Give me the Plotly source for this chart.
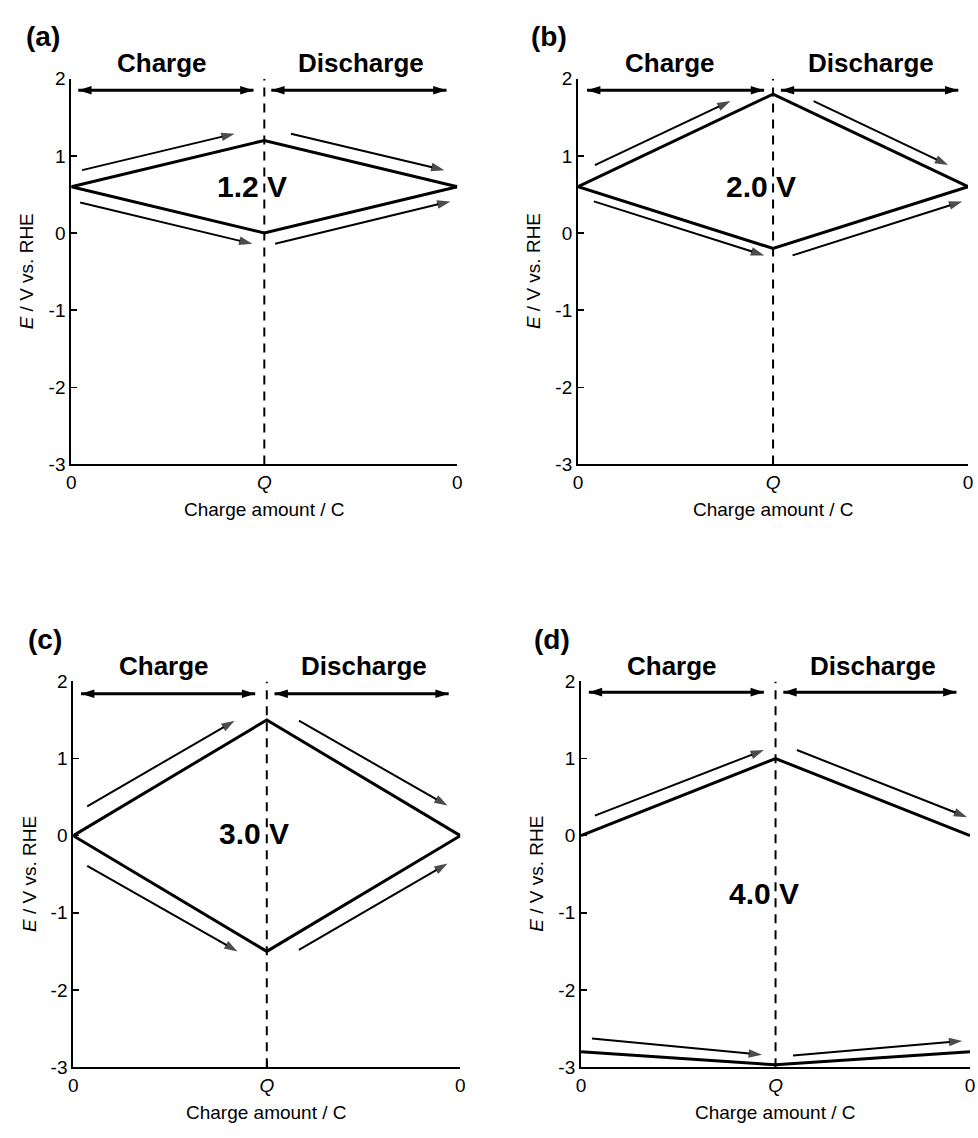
import plotly.graph_objects as go

# ---------------- data ----------------
x_pts = [0, 1, 2]
x_tickvals = [0, 1, 2]
x_ticktext = ["0", "<i>Q</i>", "0"]
y_tickvals = [2, 1, 0, -1, -2, -3]
y_ticktext = ["2", "1", "0", "-1", "-2", "-3"]

a_upper = [0.6, 1.2, 0.6]
a_lower = [0.6, 0.0, 0.6]
b_upper = [0.6, 1.8, 0.6]
b_lower = [0.6, -0.2, 0.6]
c_upper = [0.0, 1.5, 0.0]
c_lower = [0.0, -1.5, 0.0]
d_upper = [0.0, 1.0, 0.0]
d_lower = [-2.8, -2.97, -2.8]

panel_letters = ["(a)", "(b)", "(c)", "(d)"]
voltage_labels = ["1.2 V", "2.0 V", "3.0 V", "4.0 V"]
voltage_label_x = [0.935, 0.94, 0.936, 0.94]
voltage_label_y = [0.6, 0.6, 0.03, -0.75]

# thin direction arrows: (x_tail, y_tail, x_head, y_head)
a_arrows = [(0.056, 0.815, 0.846, 1.287), (1.138, 1.287, 1.933, 0.815),
            (0.046, 0.395, 0.938, -0.14), (1.056, -0.14, 1.964, 0.41)]
b_arrows = [(0.086, 0.88, 0.782, 1.71), (1.208, 1.71, 1.898, 0.88),
            (0.081, 0.41, 0.954, -0.29), (1.10, -0.29, 1.97, 0.41)]
c_arrows = [(0.072, 0.38, 0.834, 1.49), (1.166, 1.49, 1.934, 0.39),
            (0.072, -0.39, 0.849, -1.50), (1.166, -1.48, 1.934, -0.36)]
d_arrows = [(0.071, 0.26, 0.94, 1.11), (1.11, 1.11, 1.985, 0.24),
            (0.056, -2.63, 0.93, -2.84), (1.09, -2.85, 1.96, -2.66)]

# double-headed "Charge" / "Discharge" span arrows: (x_left, x_right, y)
a_spans = [(0.036, 0.944, 1.85), (1.036, 1.944, 1.85)]
b_spans = [(0.046, 0.954, 1.85), (1.04, 1.95, 1.85)]
c_spans = [(0.04, 0.94, 1.84), (1.04, 1.94, 1.84)]
d_spans = [(0.04, 0.94, 1.86), (1.04, 1.93, 1.86)]

span_labels = ["Charge", "Discharge"]
span_label_x = [0.47, 1.5]
span_label_y = 2.2

# ---------------- layout geometry (pixels) ----------------
W, H = 978, 1138
panel_px = [  # x_left, x_right, y_top, y_bottom
    (67, 457, 70, 463),
    (579, 973, 70, 463),
    (69, 460, 684, 1077),
    (582, 975, 684, 1077),
]
XR = [0, 2]
YR = [-3, 2]
FONT = "Liberation Sans, Arial, sans-serif"

uppers = [a_upper, b_upper, c_upper, d_upper]
lowers = [a_lower, b_lower, c_lower, d_lower]
arrows = [a_arrows, b_arrows, c_arrows, d_arrows]
spans = [a_spans, b_spans, c_spans, d_spans]

fig = go.Figure()
annotations = []


def px_x(p):
    return p / W


def px_y(p):
    return 1 - p / H


for i in range(4):
    n = "" if i == 0 else str(i + 1)
    xa, ya = "x" + n, "y" + n
    xl, xr, yt, yb = panel_px[i]

    def to_paper(xd, yd, xl=xl, xr=xr, yt=yt, yb=yb):
        px = xl + (xd - XR[0]) / (XR[1] - XR[0]) * (xr - xl)
        py = yb - (yd - YR[0]) / (YR[1] - YR[0]) * (yb - yt)
        return px_x(px), px_y(py)

    fig.update_layout(**{
        "xaxis" + n: dict(domain=[px_x(xl), px_x(xr)], range=XR, anchor=ya,
                          showline=True, linecolor="black", linewidth=2,
                          ticks="inside", ticklen=6, tickwidth=1.5, tickcolor="black",
                          tickvals=x_tickvals, ticktext=x_ticktext,
                          tickfont=dict(size=19, family=FONT, color="black"),
                          showgrid=False, zeroline=False, fixedrange=True),
        "yaxis" + n: dict(domain=[px_y(yb), px_y(yt)], range=YR, anchor=xa,
                          showline=True, linecolor="black", linewidth=2,
                          ticks="inside", ticklen=6, tickwidth=1.5, tickcolor="black",
                          tickvals=y_tickvals, ticktext=y_ticktext,
                          tickfont=dict(size=19, family=FONT, color="black"),
                          showgrid=False, zeroline=False, fixedrange=True),
    })

    # dashed vertical line at Q
    fig.add_trace(go.Scatter(x=[1, 1], y=YR, mode="lines", xaxis=xa, yaxis=ya,
                             line=dict(color="black", width=2, dash="9px,7px"),
                             showlegend=False, hoverinfo="skip", cliponaxis=False))
    # potential profiles
    for ys in (uppers[i], lowers[i]):
        fig.add_trace(go.Scatter(x=x_pts, y=ys, mode="lines", xaxis=xa, yaxis=ya,
                                 line=dict(color="black", width=3),
                                 showlegend=False, hoverinfo="skip", cliponaxis=False))
    # thin direction arrows
    for (x0, y0, x1, y1) in arrows[i]:
        fig.add_trace(go.Scatter(x=[x0, x1], y=[y0, y1], mode="lines+markers",
                                 xaxis=xa, yaxis=ya,
                                 line=dict(color="black", width=2),
                                 marker=dict(symbol="arrow", size=[0, 14], color="black",
                                             angleref="previous", line=dict(width=0)),
                                 showlegend=False, hoverinfo="skip", cliponaxis=False))
    # double-headed span arrows
    for (x0, x1, yy) in spans[i]:
        fig.add_trace(go.Scatter(x=[x0, x1], y=[yy, yy], mode="lines+markers",
                                 xaxis=xa, yaxis=ya,
                                 line=dict(color="black", width=3),
                                 marker=dict(symbol="arrow", size=14, color="black",
                                             angleref="up", angle=[270, 90],
                                             line=dict(width=0)),
                                 showlegend=False, hoverinfo="skip", cliponaxis=False))

    # Charge / Discharge labels
    for lab, lx in zip(span_labels, span_label_x):
        px, py = to_paper(lx, span_label_y)
        annotations.append(dict(text="<b>" + lab + "</b>", x=px, y=py, xref="paper",
                                yref="paper", showarrow=False, xanchor="center",
                                yanchor="middle",
                                font=dict(size=26, family=FONT, color="black")))
    # voltage label
    annotations.append(dict(text="<b>" + voltage_labels[i] + "</b>",
                            x=voltage_label_x[i], y=voltage_label_y[i], xref=xa, yref=ya,
                            showarrow=False, xanchor="center", yanchor="middle",
                            font=dict(size=30, family=FONT, color="black")))
    # panel letter
    annotations.append(dict(text="<b>" + panel_letters[i] + "</b>",
                            x=px_x(xl - 29), y=px_y(yt - 43), xref="paper", yref="paper",
                            showarrow=False, xanchor="center", yanchor="middle",
                            font=dict(size=28, family=FONT, color="black")))
    # axis titles
    annotations.append(dict(text="Charge amount / C", x=px_x((xl + xr) / 2),
                            y=px_y(yb + 46), xref="paper", yref="paper",
                            showarrow=False, xanchor="center", yanchor="middle",
                            font=dict(size=19, family=FONT, color="black")))
    annotations.append(dict(text="<i>E</i> / V vs. RHE", x=px_x(xl - 45),
                            y=px_y((yt + yb) / 2), xref="paper", yref="paper",
                            showarrow=False, xanchor="center", yanchor="middle",
                            textangle=-90,
                            font=dict(size=19, family=FONT, color="black")))

fig.update_layout(width=W, height=H, margin=dict(l=0, r=0, t=0, b=0),
                  paper_bgcolor="white", plot_bgcolor="white",
                  annotations=annotations, showlegend=False)

fig.write_html("out.html",
               config={"displayModeBar": False, "staticPlot": True},
               post_script="document.body.style.margin='0px';"
                           "document.body.style.overflow='hidden';")
